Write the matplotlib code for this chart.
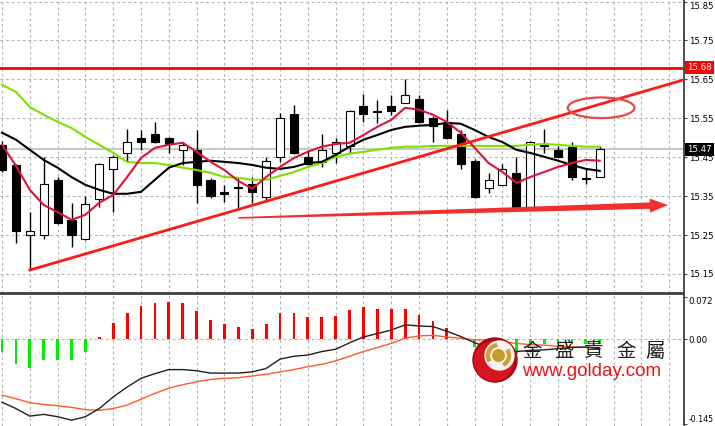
import numpy as np
import matplotlib
matplotlib.use("Agg")
import matplotlib.pyplot as plt
import matplotlib.transforms as mtransforms
from matplotlib.patches import Rectangle, Ellipse, Polygon, Circle, Wedge

# ---- data ----
opens  = [15.482, 15.430, 15.250, 15.250, 15.392, 15.289, 15.240, 15.343, 15.420, 15.461,
          15.500, 15.510, 15.500, 15.469, 15.469, 15.392, 15.361, 15.374, 15.381, 15.348,
          15.451, 15.561, 15.451, 15.438, 15.461, 15.479, 15.582, 15.569, 15.582, 15.590,
          15.600, 15.551, 15.541, 15.510, 15.441, 15.371, 15.379, 15.410, 15.320, 15.482,
          15.469, 15.477, 15.397, 15.399]
highs  = [15.492, 15.432, 15.309, 15.451, 15.399, 15.333, 15.351, 15.435, 15.456, 15.523,
          15.520, 15.541, 15.503, 15.489, 15.520, 15.397, 15.379, 15.399, 15.399, 15.451,
          15.564, 15.584, 15.469, 15.510, 15.500, 15.572, 15.613, 15.597, 15.610, 15.651,
          15.610, 15.556, 15.572, 15.520, 15.446, 15.410, 15.433, 15.451, 15.492, 15.523,
          15.479, 15.489, 15.420, 15.479]
lows   = [15.412, 15.230, 15.160, 15.240, 15.278, 15.219, 15.238, 15.322, 15.309, 15.438,
          15.469, 15.487, 15.461, 15.430, 15.333, 15.345, 15.335, 15.315, 15.333, 15.335,
          15.438, 15.459, 15.430, 15.425, 15.435, 15.461, 15.541, 15.538, 15.559, 15.589,
          15.538, 15.489, 15.497, 15.420, 15.345, 15.358, 15.378, 15.319, 15.319, 15.461,
          15.450, 15.392, 15.381, 15.399]
closes = [15.417, 15.261, 15.261, 15.381, 15.281, 15.250, 15.330, 15.433, 15.451, 15.489,
          15.489, 15.489, 15.484, 15.482, 15.379, 15.351, 15.356, 15.371, 15.361, 15.441,
          15.551, 15.461, 15.433, 15.469, 15.489, 15.569, 15.561, 15.566, 15.569, 15.610,
          15.541, 15.530, 15.500, 15.433, 15.348, 15.392, 15.420, 15.320, 15.489, 15.479,
          15.451, 15.399, 15.394, 15.471]

ma_red   = [15.482, 15.428, 15.366, 15.327, 15.309, 15.289, 15.302, 15.333, 15.353, 15.399,
            15.448, 15.474, 15.482, 15.487, 15.464, 15.438, 15.417, 15.389, 15.369, 15.399,
            15.425, 15.448, 15.464, 15.477, 15.484, 15.487, 15.507, 15.528, 15.546, 15.577,
            15.572, 15.559, 15.541, 15.513, 15.474, 15.435, 15.412, 15.384, 15.399, 15.412,
            15.425, 15.435, 15.443, 15.441]
ma_black = [15.513, 15.495, 15.469, 15.443, 15.423, 15.399, 15.379, 15.366, 15.356, 15.356,
            15.361, 15.392, 15.423, 15.435, 15.438, 15.441, 15.438, 15.435, 15.430, 15.423,
            15.420, 15.425, 15.435, 15.438, 15.456, 15.477, 15.495, 15.507, 15.520, 15.528,
            15.531, 15.533, 15.538, 15.536, 15.520, 15.502, 15.489, 15.469, 15.461, 15.451,
            15.441, 15.430, 15.420, 15.415]
ma_green = [15.636, 15.618, 15.579, 15.559, 15.541, 15.525, 15.502, 15.482, 15.461, 15.438,
            15.435, 15.435, 15.430, 15.423, 15.417, 15.410, 15.399, 15.397, 15.392, 15.392,
            15.402, 15.412, 15.425, 15.435, 15.451, 15.459, 15.464, 15.469, 15.474, 15.477,
            15.477, 15.479, 15.479, 15.479, 15.479, 15.479, 15.479, 15.479, 15.482, 15.484,
            15.482, 15.479, 15.477, 15.477]

macd_hist = [-0.021, -0.042, -0.050, -0.036, -0.036, -0.036, -0.021, 0.004, 0.028, 0.045,
             0.057, 0.063, 0.065, 0.063, 0.048, 0.033, 0.026, 0.021, 0.018, 0.026,
             0.045, 0.045, 0.039, 0.039, 0.040, 0.050, 0.055, 0.053, 0.053, 0.053,
             0.042, 0.032, 0.019, 0.002, -0.013, -0.022, -0.030, -0.025, -0.010, -0.008,
             -0.008, -0.008, -0.008, -0.008]
macd_main = [-0.108, -0.119, -0.132, -0.129, -0.133, -0.139, -0.133, -0.119, -0.099, -0.082,
             -0.067, -0.059, -0.052, -0.052, -0.054, -0.058, -0.058, -0.058, -0.056, -0.050,
             -0.034, -0.029, -0.027, -0.021, -0.017, -0.006, 0.004, 0.010, 0.016, 0.025,
             0.023, 0.022, 0.014, 0.005, -0.006, -0.014, -0.023, -0.021, -0.019, -0.018,
             -0.016, -0.014, -0.013, -0.016]
macd_signal = [-0.096, -0.102, -0.109, -0.112, -0.114, -0.117, -0.121, -0.122, -0.119, -0.113,
               -0.103, -0.093, -0.084, -0.078, -0.073, -0.069, -0.067, -0.066, -0.063, -0.060,
               -0.056, -0.052, -0.047, -0.043, -0.037, -0.029, -0.021, -0.014, -0.007, 0.002,
               0.006, 0.007, 0.004, 0.002, -0.001, -0.001, -0.004, -0.007, -0.009, -0.010,
               -0.012, -0.013, -0.014, -0.016]

price_ticks = [15.15, 15.25, 15.35, 15.45, 15.55, 15.65, 15.75, 15.85]
macd_ticks = [-0.145, 0.0, 0.072]
macd_labels = ["-0.145", "0.00", "0.072"]
resistance = 15.68
last_price = 15.47

# hand drawn marks on the chart
trend_start = (2, 15.160)
trend_end = (49.06, 15.649)
ellipse_center = (43.1, 15.577)
arrow_start = (17.0, 15.294)
arrow_tip = (47.9, 15.327)

W, H = 715, 426
fig = plt.figure(figsize=(W / 100, H / 100), dpi=100)
fig.patch.set_facecolor("white")

ax = fig.add_axes([0, 1 - 293 / H, 684 / W, 293 / H])
ax2 = fig.add_axes([0, 0, 684 / W, 132 / H])

x = np.arange(len(opens))
grid_kw = dict(color="#b4b4b4", lw=0.8, ls=(0, (2.5, 2.5)))

# ---- price pane ----
ax.set_xlim(-0.144, 49.06)
ax.set_ylim(15.101, 15.854)
ax.set_xticks(np.arange(0, 50, 2))
ax.set_yticks(price_ticks)
ax.set_yticklabels([f"{v:.2f}" for v in price_ticks])
ax.grid(True, **grid_kw)
ax.set_axisbelow(True)
ax.yaxis.tick_right()
ax.tick_params(axis="x", length=0, labelbottom=False)
ax.tick_params(axis="y", length=2, pad=1.5, labelsize=6.2, color="#404040")
ax.get_yticklabels()[-1].set_va("top")   # top label sits on the edge
for s in ["left", "top"]:
    ax.spines[s].set_visible(False)
for s in ["right", "bottom"]:
    ax.spines[s].set_color("#404040")
    ax.spines[s].set_linewidth(1.3)

ax.axhline(last_price, color="#c8c8c8", lw=1.5, zorder=1)
ax.axhline(resistance, color="#ff0000", lw=2, zorder=4)

ax.vlines(x, lows, highs, color="black", lw=1, zorder=2)
for i in range(len(opens)):
    o, c = opens[i], closes[i]
    up = c >= o
    ax.add_patch(Rectangle((i - 0.29, min(o, c)), 0.58, max(abs(c - o), 0.0008),
                           facecolor="white" if up else "black",
                           edgecolor="black", lw=0.8, zorder=3))

ax.plot(x, ma_green, color="#7fe000", lw=1.5, zorder=4)
ax.plot(x, ma_black, color="black", lw=1.5, zorder=4)
ax.plot(x, ma_red, color="#dc143c", lw=1.5, zorder=4)

ax.plot([trend_start[0], trend_end[0]], [trend_start[1], trend_end[1]],
        color="#ff1a1a", lw=2, zorder=5)
ax.add_patch(Ellipse(ellipse_center, 4.8, 0.053, fill=False,
                     edgecolor="#e84848", lw=1.6, zorder=5))

# tapered arrow, widths in pixels
fig.canvas.draw()
p0 = ax.transData.transform(arrow_start)
p1 = ax.transData.transform(arrow_tip)
u = (p1 - p0) / np.hypot(*(p1 - p0))
n = np.array([-u[1], u[0]])
hb = p1 - u * 18
pts = [p0 + n * 0.8, hb + n * 3.2, hb + n * 7, p1, hb - n * 7, hb - n * 3.2, p0 - n * 0.8]
ax.add_patch(Polygon(pts, closed=True, facecolor="#ee3030", edgecolor="none",
                     transform=mtransforms.IdentityTransform(), zorder=5))

blend = mtransforms.blended_transform_factory(ax.transAxes, ax.transData)
ax.text(1.004, resistance, "15.68", transform=blend, va="center", ha="left",
        fontsize=6.2, color="white", clip_on=False, zorder=6,
        bbox=dict(boxstyle="square,pad=0.25", fc="#ff0000", ec="none"))
ax.text(1.004, last_price, "15.47", transform=blend, va="center", ha="left",
        fontsize=6.2, color="white", clip_on=False, zorder=6,
        bbox=dict(boxstyle="square,pad=0.25", fc="black", ec="none"))

# ---- MACD pane ----
ax2.set_xlim(-0.144, 49.06)
ax2.set_ylim(-0.149, 0.078)
ax2.set_xticks(np.arange(0, 50, 2))
ax2.set_yticks(macd_ticks)
ax2.set_yticklabels(macd_labels)
ax2.grid(True, axis="x", **grid_kw)
ax2.set_axisbelow(True)
ax2.axhline(0, color="#b4b4b4", lw=0.8, ls=(0, (2.5, 2.5)), zorder=1)
ax2.yaxis.tick_right()
ax2.tick_params(axis="x", length=0, labelbottom=False)
ax2.tick_params(axis="y", length=2, pad=1.5, labelsize=6.2, color="#404040")
low_lbl = ax2.get_yticklabels()[0]
low_lbl.set_va("bottom")
low_lbl.set_fontsize(5.6)
ax2.get_yticklabels()[2].set_va("top")
for s in ["left", "bottom"]:
    ax2.spines[s].set_visible(False)
for s in ["right", "top"]:
    ax2.spines[s].set_color("#404040")
    ax2.spines[s].set_linewidth(1.3)

hist = np.array(macd_hist)
ax2.bar(x, hist, width=0.2, color=np.where(hist >= 0, "#ff0000", "#00ee00"), zorder=2)
ax2.plot(x, macd_signal, color="#ff5a28", lw=1, zorder=3)
ax2.plot(x, macd_main, color="#202020", lw=1, zorder=3)

# ---- watermark logo ----
lg = fig.add_axes([471 / W, 1 - 384 / H, 48 / W, 48 / H])
lg.set_xlim(0, 48)
lg.set_ylim(48, 0)
lg.set_aspect("equal")
lg.axis("off")
lg.add_patch(Circle((24, 24), 22, color="#a80812"))
lg.add_patch(Circle((23, 25), 19.5, color="#d8141e"))
lg.add_patch(Circle((28.5, 19.5), 14.5, color="#f6f2f0"))
lg.add_patch(Wedge((27.5, 19.5), 12, 150, 260, width=3, color="#c9a23a"))
lg.add_patch(Wedge((27.5, 19.5), 12, 330, 60, width=3, color="#c9a23a"))
lg.add_patch(Circle((27.5, 19.5), 5.8, color="#c39a2c"))

for ch, cx in zip(["金", "盛", "貴", "金", "屬"], [532, 564, 594, 626, 655]):
    fig.text(cx / W, 1 - 351 / H, ch, ha="center", va="center", fontsize=14,
             family=["Noto Sans CJK TC", "DejaVu Sans"], color="#1e1e1e")
fig.text(522 / W, 1 - 372 / H, "www.golday.com", ha="left", va="center",
         fontsize=13.5, family="Liberation Sans", color="#e8141c")

fig.savefig("out.png", dpi=100)
